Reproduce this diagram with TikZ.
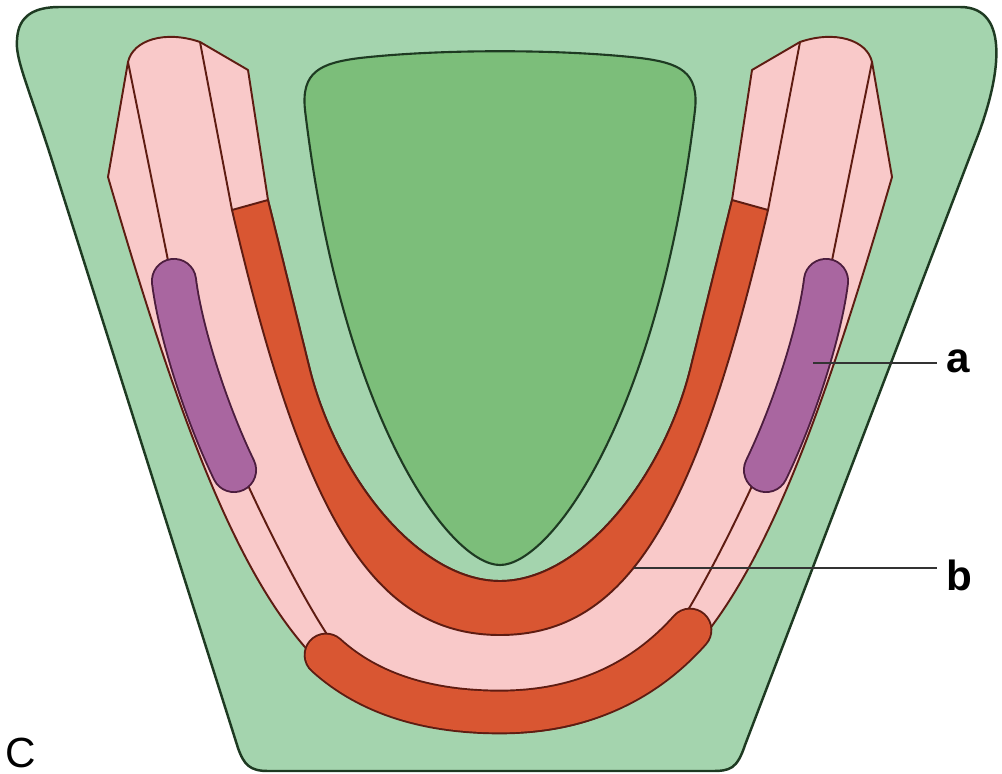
\documentclass[tikz,border=0pt]{standalone}
\usepackage{fontspec}
\setmainfont{Liberation Sans}
\usepackage{tikz}
\definecolor{baseGreen}{HTML}{A4D4AE}
\definecolor{palateGreen}{HTML}{7CBE7A}
\definecolor{gumPink}{HTML}{F9C9C9}
\definecolor{bandRed}{HTML}{D95632}
\definecolor{padPurple}{HTML}{A966A0}
\definecolor{edgeGreen}{HTML}{1E3A22}
\definecolor{edgeBrown}{HTML}{5E1C12}
\definecolor{edgePlum}{HTML}{4C1D3E}
\definecolor{pointer}{HTML}{333333}
\tikzset{
  baseShape/.style={fill=baseGreen, draw=edgeGreen, line width=0.7pt},
  palateShape/.style={fill=palateGreen, draw=edgeGreen, line width=0.6pt},
  ridgeShape/.style={fill=gumPink, draw=edgeBrown, line width=0.55pt, line join=round},
  ridgeLine/.style={draw=edgeBrown, line width=0.55pt},
  bandShape/.style={fill=bandRed, draw=edgeBrown, line width=0.55pt, line join=round},
  bandStroke/.style={draw=edgeBrown, line width=0.55pt, double=bandRed, double distance=11.6pt, line cap=round},
  padStroke/.style={draw=edgePlum, line width=0.55pt, double=padPurple, double distance=12pt, line cap=round},
  pointerLine/.style={draw=pointer, line width=0.5pt},
  tagLabel/.style={font=\fontsize{12}{14}\selectfont\bfseries, anchor=base west, inner xsep=0.9mm, inner ysep=0pt},
  panelLabel/.style={font=\fontsize{12}{14}\selectfont, anchor=base west, inner sep=0pt}
}

\begin{document}
\begin{tikzpicture}[x=0.1mm, y=-0.1mm]
  \useasboundingbox (0,0) rectangle (1002,774);

  \path[baseShape] (60,7) -- (960,7) .. controls (1012,7) and (1000,80) .. (975,143)
    -- (745,745) .. controls (737,769) and (730,771) .. (712,771)
    -- (268,771) .. controls (250,771) and (244,765) .. (238,748)
    -- (55,170) .. controls (30,90) and (15,60) .. (17,40)
    .. controls (18,15) and (35,7) .. (60,7) -- cycle;

  \path[palateShape] (500,565) .. controls (450,565) and (342,420) .. (305,110)
    .. controls (301,72) and (320,63) .. (360,58)
    .. controls (440,49) and (560,49) .. (640,58)
    .. controls (680,63) and (699,72) .. (695,110)
    .. controls (658,420) and (550,565) .. (500,565) -- cycle;

  \path[ridgeShape] (108,177) -- (128,62) .. controls (133,40) and (165,30) .. (200,42)
    -- (248,70) -- (268,200) -- (310,370)
    .. controls (338,480) and (420,581) .. (500,581)
    .. controls (580,581) and (662,480) .. (690,370)
    -- (732,200) -- (752,70) -- (800,42)
    .. controls (835,30) and (867,40) .. (872,62)
    -- (892,177) .. controls (770,597) and (690,733) .. (500,733)
    .. controls (310,733) and (230,597) .. (108,177) -- cycle;

  \draw[ridgeLine] (128,62) -- (176,300) .. controls (221,450) and (315,625) .. (340,652);
  \draw[ridgeLine] (872,62) -- (824,300) .. controls (779,450) and (690,615) .. (668,640);
  \draw[ridgeLine] (200,42) -- (232,210);
  \draw[ridgeLine] (800,42) -- (768,210);

  \path[bandShape] (232,210) -- (268,200) -- (310,370)
    .. controls (338,480) and (420,581) .. (500,581)
    .. controls (580,581) and (662,480) .. (690,370)
    -- (732,200) -- (768,210)
    .. controls (698,510) and (630,635) .. (500,635)
    .. controls (370,635) and (302,510) .. (232,210) -- cycle;

  \draw[bandStroke] (326,655) .. controls (370,695) and (430,712) .. (500,712)
    .. controls (590,712) and (650,675) .. (690,630);

  \draw[padStroke] (174,281) .. controls (180,330) and (205,410) .. (234,470);
  \draw[padStroke] (826,281) .. controls (820,330) and (795,410) .. (766,470);

  \coordinate (padTip) at (813,363);
  \coordinate (bandTip) at (634,568);
  \node[tagLabel] (labA) at (937,373) {a};
  \node[tagLabel] (labB) at (937,590) {b};
  \node[panelLabel] (panel) at (5,767) {C};
  \draw[pointerLine] (padTip) -- (padTip -| labA.west);
  \draw[pointerLine] (bandTip) -- (bandTip -| labB.west);
\end{tikzpicture}
\end{document}
